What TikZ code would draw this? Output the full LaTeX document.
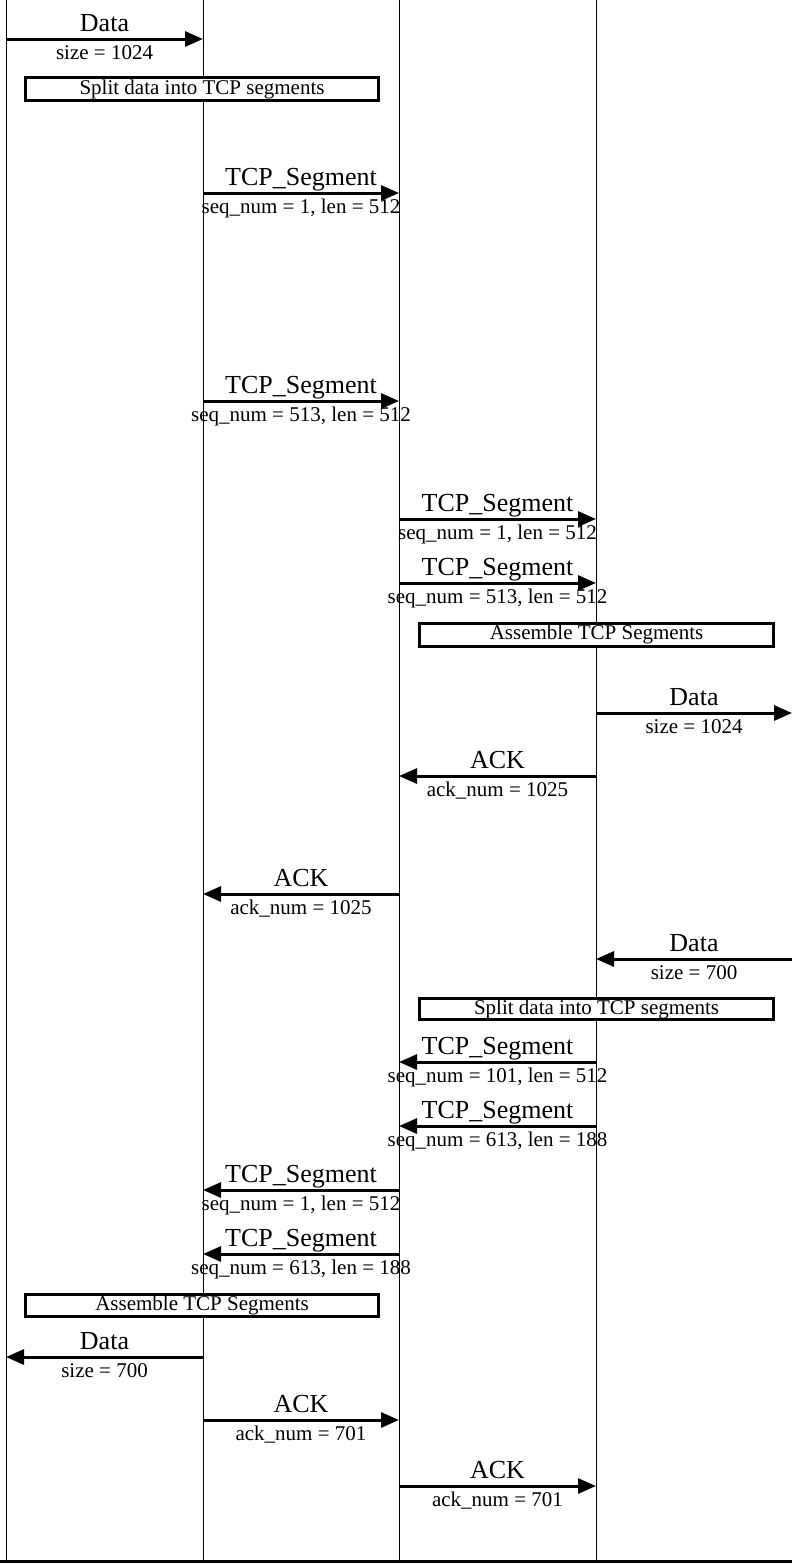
\documentclass[tikz,border=0pt]{standalone}
\usepackage{fontspec}
\setmainfont{Liberation Serif}
\usetikzlibrary{arrows.meta,calc}
\tikzset{
  lifeline/.style={line width=1pt,black},
  msg/.style={line width=3pt,-{Triangle[length=18pt,width=15pt]}},
  toplbl/.style={anchor=base,inner sep=0pt,font=\fontsize{26}{30}\selectfont},
  botlbl/.style={anchor=base,inner sep=0pt,font=\fontsize{21}{25}\selectfont},
  notebox/.style={draw,line width=3pt,fill=white},
  notetext/.style={inner sep=0pt,font=\fontsize{21}{25}\selectfont}
}
\newcommand\msgarrow[6]{%
  \coordinate (#1s) at (#3,#2);
  \coordinate (#1e) at (#4,#2);
  \draw[msg] (#1s) -- (#1e);
  \node[toplbl] (#1t) at ($($(#1s)!0.5!(#1e)$)+(0,-8)$) {#5};
  \node[botlbl] (#1b) at ($($(#1s)!0.5!(#1e)$)+(0,20)$) {#6};
}
\newcommand\notebx[6]{%
  \draw[notebox] (#2,#3) rectangle (#4,#5);
  \node[notetext] (#1) at ($(#2,#3)!0.5!(#4,#5)$) {#6};
}
\begin{document}
\begin{tikzpicture}[x=1pt,y=-1pt]
\useasboundingbox (0,0) rectangle (792,1564);
% lifelines
\foreach \n/\x in {A/6,B/203,C/399,D/596}{
  \coordinate (\n top) at (\x,0);
  \coordinate (\n bot) at (\x,1560);
  \draw[lifeline] (\n top) -- (\n bot);
}
\coordinate (bl) at (0,1561.5);
\coordinate (br) at (792,1561.5);
\draw[line width=3pt] (bl) -- (br);

\msgarrow{m1}{39}{6}{203}{Data}{size = 1024}
\notebx{n1}{25.5}{77.5}{378.5}{100.5}{Split data into TCP segments}
\msgarrow{m2}{193}{203}{399}{TCP\_Segment}{seq\_num = 1, len = 512}
\msgarrow{m3}{401}{203}{399}{TCP\_Segment}{seq\_num = 513, len = 512}
\msgarrow{m4}{519}{399}{596}{TCP\_Segment}{seq\_num = 1, len = 512}
\msgarrow{m5}{583}{399}{596}{TCP\_Segment}{seq\_num = 513, len = 512}
\notebx{n2}{419.5}{623}{773.5}{646}{Assemble TCP Segments}
\msgarrow{m6}{713}{596}{792}{Data}{size = 1024}
\msgarrow{m7}{776}{596}{399}{ACK}{ack\_num = 1025}
\msgarrow{m8}{894}{399}{203}{ACK}{ack\_num = 1025}
\msgarrow{m9}{959}{792}{596}{Data}{size = 700}
\notebx{n3}{419.5}{998.5}{773.5}{1019.5}{Split data into TCP segments}
\msgarrow{m10}{1062}{596}{399}{TCP\_Segment}{seq\_num = 101, len = 512}
\msgarrow{m11}{1126}{596}{399}{TCP\_Segment}{seq\_num = 613, len = 188}
\msgarrow{m12}{1190}{399}{203}{TCP\_Segment}{seq\_num = 1, len = 512}
\msgarrow{m13}{1254}{399}{203}{TCP\_Segment}{seq\_num = 613, len = 188}
\notebx{n4}{25.5}{1294.5}{378.5}{1316}{Assemble TCP Segments}
\msgarrow{m14}{1357}{203}{6}{Data}{size = 700}
\msgarrow{m15}{1420}{203}{399}{ACK}{ack\_num = 701}
\msgarrow{m16}{1486}{399}{596}{ACK}{ack\_num = 701}
\end{tikzpicture}
\end{document}
